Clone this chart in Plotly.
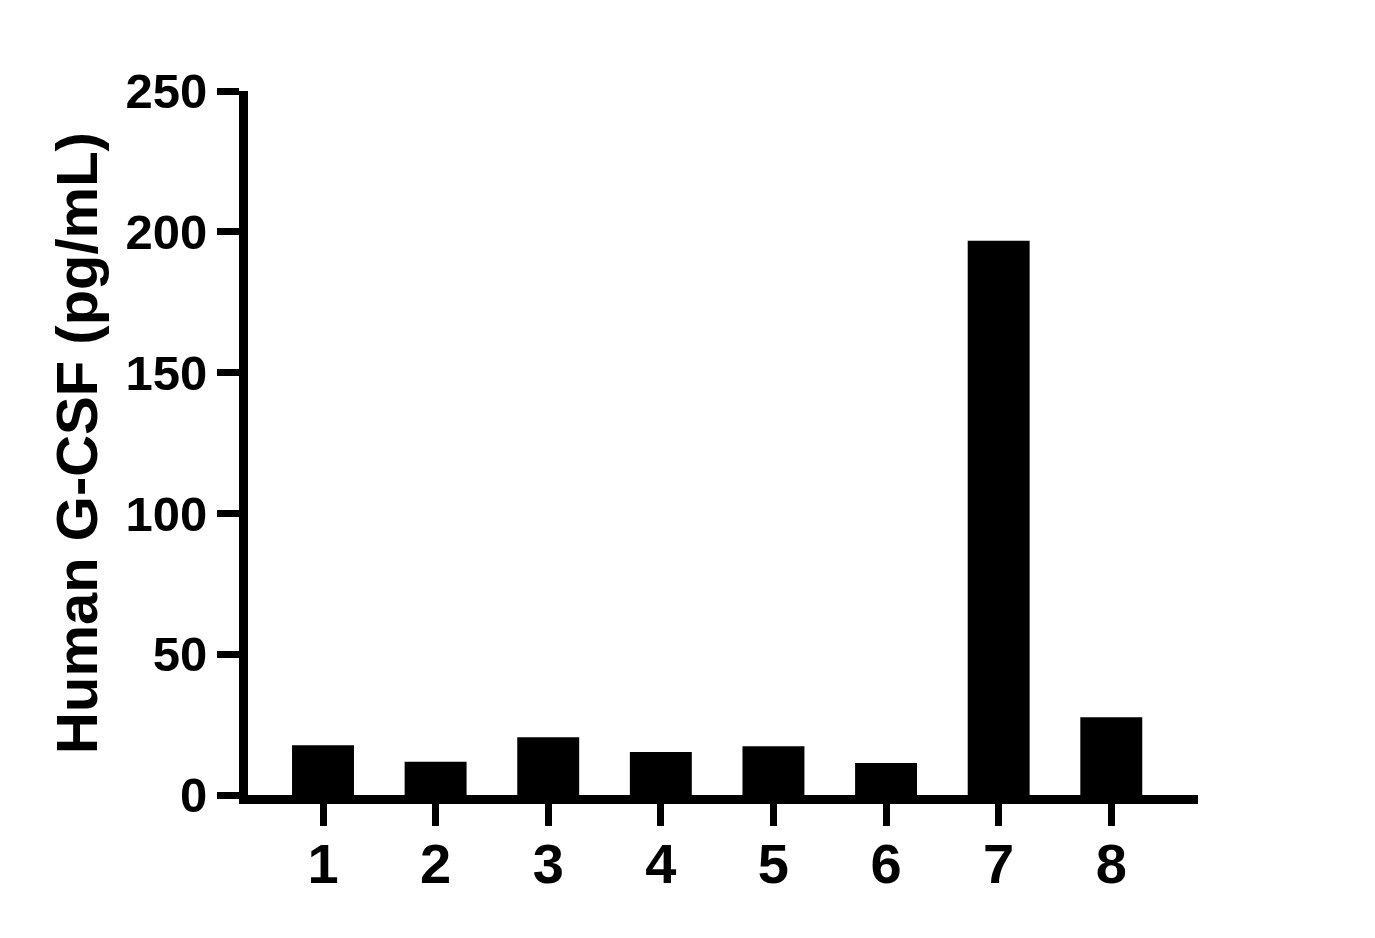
import plotly.graph_objects as go

# sample groups and measured concentration
categories = ["1", "2", "3", "4", "5", "6", "7", "8"]
gcsf_values = [17.7, 11.8, 20.5, 15.3, 17.3, 11.4, 196.8, 27.6]
y_ticks = [0, 50, 100, 150, 200, 250]

FONT = "Liberation Sans, Arial, sans-serif"

fig = go.Figure(go.Bar(
    x=categories,
    y=gcsf_values,
    width=0.55,
    marker=dict(color="black", line=dict(width=0)),
))

# page body adds 8px, so margins are shifted to compensate
fig.update_layout(
    width=1375,
    height=938,
    plot_bgcolor="white",
    paper_bgcolor="white",
    showlegend=False,
    margin=dict(l=240, r=185, t=83, b=151),
    font=dict(family=FONT, color="black"),
)

fig.update_xaxes(
    type="category",
    range=[-0.666, 7.77],
    showline=True, linewidth=9, linecolor="black",
    ticks="outside", ticklen=22, tickwidth=7, tickcolor="black",
    ticklabelstandoff=-10,
    tickfont=dict(family=FONT, size=56, weight="bold"),
    showgrid=False, zeroline=False,
)

fig.update_yaxes(
    range=[0, 250],
    tickvals=y_ticks,
    showline=True, linewidth=9, linecolor="black",
    ticks="outside", ticklen=22, tickwidth=7, tickcolor="black",
    tickfont=dict(family=FONT, size=49, weight="bold"),
    showgrid=False, zeroline=False,
    title=dict(text="Human G-CSF (pg/mL)", standoff=13,
               font=dict(family=FONT, size=58, weight="bold")),
)

fig.write_html("out.html")
